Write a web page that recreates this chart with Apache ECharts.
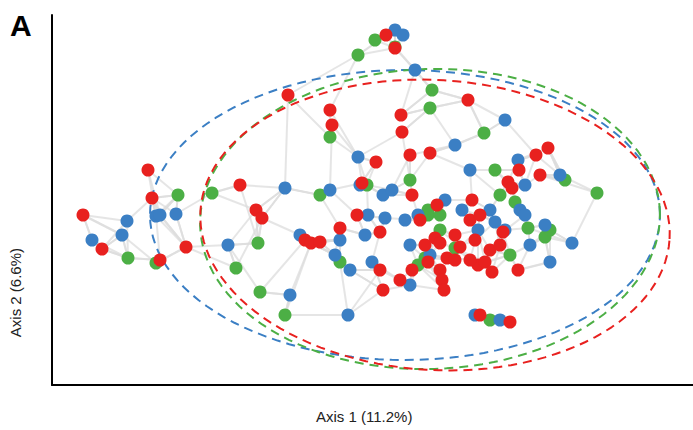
<!DOCTYPE html>
<html lang="en">
  <head>
    <meta charset="UTF-8" />
    <title>PCoA</title>
  </head>
  <body style="margin:0">
    <div id="main" style="width:693px;height:430px"></div>
    <script src="https://cdn.jsdelivr.net/npm/echarts@6/dist/echarts.min.js"></script>
    <script>
      // point positions in axis units (origin at axis corner)
      const redPts = [[31,170],[50,136],[96,215],[100,187],[108,125],[134,138],[188,200],[204,175],[210,167],[236,290],[253,145],[259,142],[268,143],[278,275],[280,260],[288,157],[305,170],[310,202],[324,223],[328,153],[328,115],[331,95],[334,350],[343,337],[349,270],[350,253],[358,230],[360,190],[368,165],[373,140],[376,123],[378,232],[383,147],[385,180],[388,115],[390,105],[392,95],[395,127],[403,150],[408,138],[416,285],[418,165],[420,185],[423,145],[426,120],[428,170],[433,123],[438,135],[440,113],[448,140],[451,153],[456,203],[460,197],[466,115],[467,215],[484,230],[488,210],[496,237],[428,70],[458,63],[348,105],[360,115],[388,142],[403,125],[418,125]]
      const bluePts = [[40,145],[70,150],[75,164],[104,169],[108,170],[124,171],[176,140],[233,197],[238,90],[248,150],[278,195],[283,130],[288,145],[296,70],[298,115],[306,228],[313,150],[316,170],[320,123],[331,190],[333,167],[340,195],[343,355],[353,165],[351,350],[358,140],[358,100],[363,315],[366,170],[378,130],[393,185],[403,240],[410,175],[418,215],[423,70],[426,155],[438,175],[443,163],[448,65],[453,265],[453,155],[466,225],[468,175],[473,170],[473,200],[478,140],[493,160],[498,123],[508,210],[520,142],[308,200]]
      const greenPts = [[76,127],[104,122],[126,190],[160,192],[184,117],[206,142],[208,93],[233,70],[268,190],[278,248],[288,123],[306,330],[315,200],[323,345],[343,338],[358,205],[376,175],[378,277],[380,295],[373,127],[376,170],[366,120],[388,155],[432,252],[438,65],[443,215],[448,190],[458,130],[463,183],[476,157],[493,148],[513,205],[545,192],[498,155],[388,170],[403,137]]

      // confidence ellipses: centre x, centre y, radius x, radius y, tilt (rad)
      const blueEllipse = [353, 170, 255, 145, 0]
      const greenEllipse = [378, 166, 230, 150, 0.03]
      const redEllipse = [383, 160, 235, 145, -0.06]

      const red = '#e8211f', blue = '#3b7fc4', green = '#4caf45'

      const ellipse = e => {
        const [cx, cy, rx, ry, t] = e
        const pts = []
        for (let i = 0; i <= 120; i++) {
          const a = (i / 120) * Math.PI * 2
          const x = rx * Math.cos(a), y = ry * Math.sin(a)
          pts.push([cx + x * Math.cos(t) - y * Math.sin(t), cy + x * Math.sin(t) + y * Math.cos(t)])
        }
        return pts
      }

      // grey links: each point to its 3 nearest neighbours of other groups
      const groups = [redPts, bluePts, greenPts]
      const links = []
      groups.forEach((g, gi) => {
        g.forEach(p => {
          const cand = []
          groups.forEach((h, hi) => {
            if (hi === gi) return
            h.forEach(q => cand.push([(p[0] - q[0]) ** 2 + (p[1] - q[1]) ** 2, q]))
          })
          cand.sort((a, b) => a[0] - b[0])
          cand.slice(0, 3).forEach(c => links.push({ coords: [p, c[1]] }))
        })
      })

      const myChart = echarts.init(document.getElementById('main'), null, { renderer: 'svg' })
      const scatter = (data, color) => ({
        type: 'scatter', data, symbolSize: 13, z: 5,
        itemStyle: { color, opacity: 1 }
      })
      const ell = (e, color) => ({
        type: 'line', data: ellipse(e), showSymbol: false, z: 3,
        lineStyle: { color, width: 2, type: [9, 6] }
      })

      myChart.setOption({
        animation: false,
        grid: { left: 52, right: 0, top: 15, bottom: 45 },
        xAxis: {
          type: 'value', min: 0, max: 641,
          axisLine: { show: true, lineStyle: { color: '#000', width: 2 } },
          axisTick: { show: false }, axisLabel: { show: false }, splitLine: { show: false }
        },
        yAxis: {
          type: 'value', min: 0, max: 370,
          axisLine: { show: true, lineStyle: { color: '#000', width: 2 } },
          axisTick: { show: false }, axisLabel: { show: false }, splitLine: { show: false }
        },
        graphic: [
          { type: 'text', left: 10, top: 10, style: { text: 'A', font: 'bold 30px Arial, Liberation Sans', fill: '#000' } },
          { type: 'text', left: 316, top: 409, style: { text: 'Axis 1 (11.2%)', font: '15px Liberation Sans, Arial', fill: '#222' } },
          { type: 'text', left: 8, top: 248, rotation: Math.PI / 2, style: { text: 'Axis 2 (6.6%)', font: '15px Liberation Sans, Arial', fill: '#222' } }
        ],
        series: [
          {
            type: 'lines', coordinateSystem: 'cartesian2d', data: links, z: 1,
            lineStyle: { color: '#dcdcdc', width: 2, opacity: 0.75 }
          },
          ell(blueEllipse, blue),
          ell(greenEllipse, green),
          ell(redEllipse, red),
          scatter(greenPts, green),
          scatter(bluePts, blue),
          scatter(redPts, red)
        ]
      })
    </script>
  </body>
</html>
